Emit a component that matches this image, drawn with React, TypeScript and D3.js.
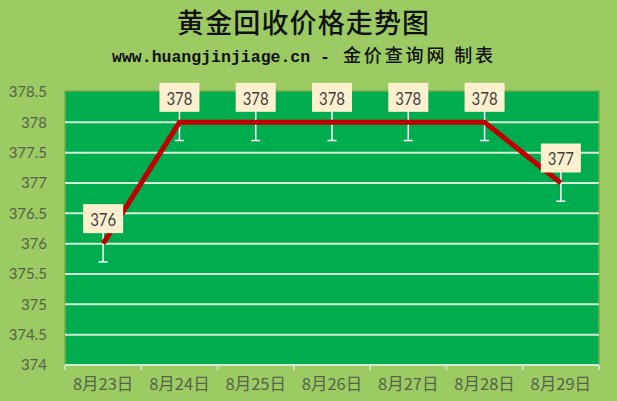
import React from "react";
import * as d3 from "d3";

const dates = ["8月23日", "8月24日", "8月25日", "8月26日", "8月27日", "8月28日", "8月29日"];
const prices = [376, 378, 378, 378, 378, 378, 377];
const errorAmount = 0.3;
const yTicks = [374, 374.5, 375, 375.5, 376, 376.5, 377, 377.5, 378, 378.5];
const titleText = "黄金回收价格走势图";
const subtitleLatin = "www.huangjinjiage.cn -";
const subtitleCjk = "金价查询网 制表";

const W = 617;
const H = 401;
const plot = { left: 65, right: 599, top: 92, bottom: 365 };

export default function App() {
  const x = d3.scaleBand<string>().domain(dates).range([plot.left, plot.right]);
  const y = d3.scaleLinear().domain([374, 378.5]).range([plot.bottom, plot.top]);
  const cx = (d: string) => (x(d) as number) + x.bandwidth() / 2;
  const line = d3
    .line<number>()
    .x((_, i) => cx(dates[i]))
    .y((v) => y(v));

  const fontNum = "Lato, 'Open Sans', 'Noto Sans', sans-serif";
  const cjk = "'Noto Sans CJK SC', sans-serif";

  return (
    <svg
      width={W}
      height={H}
      style={{ position: "fixed", left: 0, top: 0, display: "block" }}
    >
      <rect x={0} y={0} width={W} height={H} fill="#9BCB62" />
      {/* title */}
      <text
        x={177}
        y={33}
        fontFamily={cjk}
        fontWeight={500}
        fontSize={27}
        fill="#111"
        textLength={252}
        lengthAdjust="spacing"
      >
        {titleText}
      </text>
      <text
        x={112}
        y={62}
        fill="#111"
        fontFamily="'Liberation Mono', 'DejaVu Sans Mono', monospace"
        fontWeight={700}
        fontSize={17}
        textLength={218}
        lengthAdjust="spacingAndGlyphs"
      >
        {subtitleLatin}
      </text>
      <text x={343} y={62} fill="#111" fontFamily={cjk} fontWeight={500} fontSize={18} textLength={150} lengthAdjust="spacing">
        {subtitleCjk}
      </text>

      {/* plot area */}
      <rect
        x={plot.left}
        y={plot.top - 1}
        width={plot.right - plot.left}
        height={plot.bottom - plot.top + 1}
        fill="#00AD4E"
        stroke="#74AE48"
        strokeWidth={1.5}
      />
      {yTicks
        .filter((t) => t > 374 && t < 378.5)
        .map((t) => (
          <line
            key={"g" + t}
            x1={plot.left}
            x2={plot.right}
            y1={y(t)}
            y2={y(t)}
            stroke="#D6EED6"
            strokeWidth={2}
          />
        ))}
      {/* x axis */}
      <line x1={plot.left} x2={plot.right} y1={y(374)} y2={y(374)} stroke="#D6EED6" strokeWidth={2} />
      {dates.concat([""]).map((d, i) => {
        const xx = plot.left + i * x.bandwidth();
        return (
          <line key={"t" + i} x1={xx} x2={xx} y1={plot.bottom} y2={plot.bottom + 5} stroke="#D6EED6" strokeWidth={1.5} />
        );
      })}
      {yTicks.map((t) => (
        <text
          key={"yl" + t}
          x={47}
          y={y(t)}
          dy="0.35em"
          textAnchor="end"
          fontFamily={fontNum}
          fontSize={15}
          fill="#56634A"
        >
          {String(t)}
        </text>
      ))}
      {dates.map((d) => (
        <text
          key={"xl" + d}
          x={cx(d)}
          y={384}
          dy="0.35em"
          textAnchor="middle"
          fontFamily={cjk}
          fontSize={16.5}
          fill="#56634A"
        >
          {d}
        </text>
      ))}

      {/* error bars */}
      {prices.map((v, i) => {
        const xx = cx(dates[i]);
        const y1 = y(v + errorAmount);
        const y2 = y(v - errorAmount);
        return (
          <g key={"e" + i} stroke="#FFFFFF" strokeWidth={1.5}>
            <line x1={xx} x2={xx} y1={y1} y2={y2} />
            <line x1={xx - 4.5} x2={xx + 4.5} y1={y1} y2={y1} />
            <line x1={xx - 4.5} x2={xx + 4.5} y1={y2} y2={y2} />
          </g>
        );
      })}

      {/* line */}
      <path d={line(prices) as string} fill="none" stroke="#C00000" strokeWidth={5} strokeLinejoin="miter" />

      {/* labels */}
      {prices.map((v, i) => {
        const xx = cx(dates[i]);
        const yy = y(v) - 25;
        return (
          <g key={"l" + i}>
            <rect x={xx - 20} y={yy - 14.5} width={40} height={29} fill="#FDF0CF" />
            <text
              x={xx - 13}
              y={yy + 1}
              dy="0.36em"
              fontFamily={fontNum}
              fontSize={17.5}
              fill="#404040"
              textLength={26}
              lengthAdjust="spacingAndGlyphs"
            >
              {String(v)}
            </text>
          </g>
        );
      })}
    </svg>
  );
}
